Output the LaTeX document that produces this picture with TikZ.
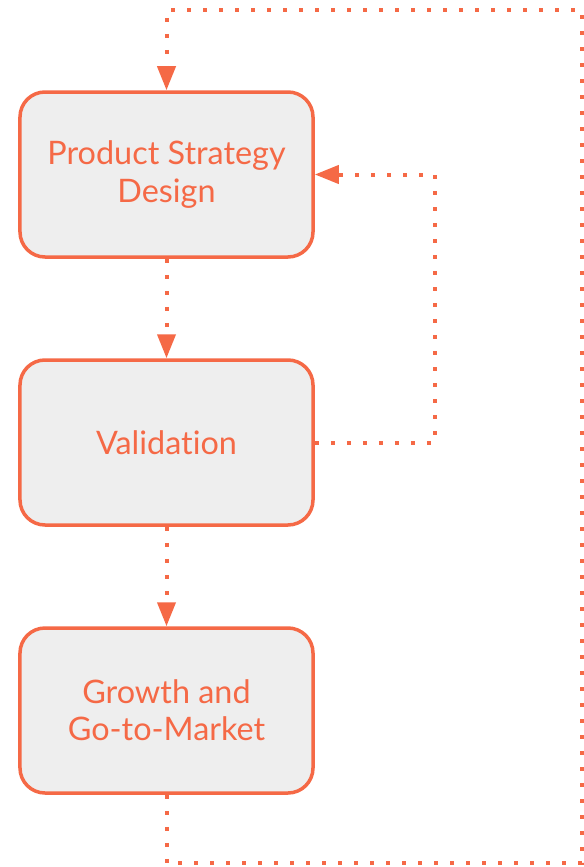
\documentclass[tikz,border=0pt]{standalone}
\usepackage{fontspec}
\setmainfont{Lato}[Ligatures=NoCommon]
\usetikzlibrary{arrows.meta}
\definecolor{flow}{RGB}{245,105,70}
\definecolor{boxfill}{RGB}{238,238,238}
\begin{document}
\begin{tikzpicture}[x=1bp,y=-1bp,
    stage/.style={draw=flow,line width=3.5bp,fill=boxfill,rounded corners=25bp,
        minimum width=293bp,minimum height=165bp,align=center,text=flow,
        font=\fontsize{32.5}{37.5}\selectfont},
    link/.style={draw=flow,line width=4bp,dash pattern=on 4bp off 12bp,
        -{Triangle[length=24bp,width=18bp]}}]
    \useasboundingbox (0,0) rectangle (584,867);
    \node[stage] (design) at (166.5,174.5) {Product Strategy\\Design};
    \node[stage] (valid) at (166.5,442.5) {Validation};
    \node[stage] (growth) at (166.5,710.5) {Growth and\\Go-to-Market};
    % loop back from growth to design
    \coordinate (lowleft) at (166.5,863);
    \coordinate (lowright) at (582,863);
    \coordinate (topright) at (582,10);
    \coordinate (topleft) at (166.5,10);
    \coordinate (backturn) at (435,442.5);
    \draw[link] (design) -- (valid);
    \draw[link] (valid) -- (growth);
    \draw[link] (valid.east) -- (backturn) |- (design.east);
    \draw[link] (growth.south) -- (lowleft) -- (lowright) -- (topright) -- (topleft) -- (design.north);
\end{tikzpicture}
\end{document}
